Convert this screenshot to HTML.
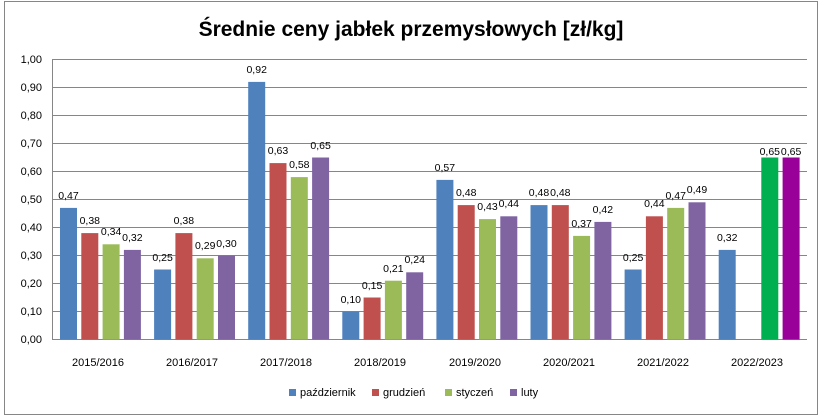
<!DOCTYPE html><html><head><meta charset="utf-8"><style>body{margin:0;background:#fff}svg{display:block}text{font-family:"Liberation Sans",sans-serif}</style></head><body>
<svg width="822" height="418" xmlns="http://www.w3.org/2000/svg">
<rect x="4.5" y="1.5" width="813" height="413" fill="#fff" stroke="#868686"/>
<text x="411" y="36" font-size="21" font-weight="bold" text-anchor="middle" fill="#000">Średnie ceny jabłek przemysłowych [zł/kg]</text>
<g stroke="#868686" stroke-width="1">
<line x1="52" x2="807" y1="59.5" y2="59.5"/><line x1="52" x2="807" y1="87.5" y2="87.5"/><line x1="52" x2="807" y1="115.5" y2="115.5"/><line x1="52" x2="807" y1="143.5" y2="143.5"/><line x1="52" x2="807" y1="171.5" y2="171.5"/><line x1="52" x2="807" y1="199.5" y2="199.5"/><line x1="52" x2="807" y1="227.5" y2="227.5"/><line x1="52" x2="807" y1="255.5" y2="255.5"/><line x1="52" x2="807" y1="283.5" y2="283.5"/><line x1="52" x2="807" y1="311.5" y2="311.5"/><line x1="52" x2="807" y1="339.5" y2="339.5"/>
<line x1="52.5" x2="52.5" y1="59" y2="340"/>
</g>
<g font-size="11" text-anchor="end" fill="#000">
<text x="42" y="63">1,00</text><text x="42" y="91">0,90</text><text x="42" y="119">0,80</text><text x="42" y="147">0,70</text><text x="42" y="175">0,60</text><text x="42" y="203">0,50</text><text x="42" y="231">0,40</text><text x="42" y="259">0,30</text><text x="42" y="287">0,20</text><text x="42" y="315">0,10</text><text x="42" y="343">0,00</text>
</g>
<g>
<rect x="60" y="207.9" width="17" height="131.6" fill="#4F81BD"/><rect x="81.3" y="233.1" width="17" height="106.4" fill="#C0504D"/><rect x="102.6" y="244.3" width="17" height="95.2" fill="#9BBB59"/><rect x="123.9" y="249.9" width="17" height="89.6" fill="#8064A2"/>
<rect x="154.1" y="269.5" width="17" height="70" fill="#4F81BD"/><rect x="175.4" y="233.1" width="17" height="106.4" fill="#C0504D"/><rect x="196.7" y="258.3" width="17" height="81.2" fill="#9BBB59"/><rect x="218" y="255.5" width="17" height="84" fill="#8064A2"/>
<rect x="248.2" y="81.9" width="17" height="257.6" fill="#4F81BD"/><rect x="269.5" y="163.1" width="17" height="176.4" fill="#C0504D"/><rect x="290.8" y="177.1" width="17" height="162.4" fill="#9BBB59"/><rect x="312.1" y="157.5" width="17" height="182" fill="#8064A2"/>
<rect x="342.3" y="311.5" width="17" height="28" fill="#4F81BD"/><rect x="363.6" y="297.5" width="17" height="42" fill="#C0504D"/><rect x="384.9" y="280.7" width="17" height="58.8" fill="#9BBB59"/><rect x="406.2" y="272.3" width="17" height="67.2" fill="#8064A2"/>
<rect x="436.4" y="179.9" width="17" height="159.6" fill="#4F81BD"/><rect x="457.7" y="205.1" width="17" height="134.4" fill="#C0504D"/><rect x="479" y="219.1" width="17" height="120.4" fill="#9BBB59"/><rect x="500.3" y="216.3" width="17" height="123.2" fill="#8064A2"/>
<rect x="530.5" y="205.1" width="17" height="134.4" fill="#4F81BD"/><rect x="551.8" y="205.1" width="17" height="134.4" fill="#C0504D"/><rect x="573.1" y="235.9" width="17" height="103.6" fill="#9BBB59"/><rect x="594.4" y="221.9" width="17" height="117.6" fill="#8064A2"/>
<rect x="624.6" y="269.5" width="17" height="70" fill="#4F81BD"/><rect x="645.9" y="216.3" width="17" height="123.2" fill="#C0504D"/><rect x="667.2" y="207.9" width="17" height="131.6" fill="#9BBB59"/><rect x="688.5" y="202.3" width="17" height="137.2" fill="#8064A2"/>
<rect x="718.7" y="249.9" width="17" height="89.6" fill="#4F81BD"/><rect x="761.3" y="157.5" width="17" height="182" fill="#00B050"/><rect x="782.6" y="157.5" width="17" height="182" fill="#990099"/>
</g>
<g font-size="10.5" text-anchor="middle" fill="#000">
<text x="68.5" y="199">0,47</text><text x="89.8" y="224">0,38</text><text x="111.1" y="235">0,34</text><text x="132.4" y="241">0,32</text>
<text x="162.6" y="261">0,25</text><text x="183.9" y="224">0,38</text><text x="205.2" y="249">0,29</text><text x="226.5" y="247">0,30</text>
<text x="256.7" y="73">0,92</text><text x="278" y="154">0,63</text><text x="299.3" y="168">0,58</text><text x="320.6" y="149">0,65</text>
<text x="350.8" y="303">0,10</text><text x="372.1" y="289">0,15</text><text x="393.4" y="272">0,21</text><text x="414.7" y="263">0,24</text>
<text x="444.9" y="171">0,57</text><text x="466.2" y="196">0,48</text><text x="487.5" y="210">0,43</text><text x="508.8" y="207">0,44</text>
<text x="539" y="196">0,48</text><text x="560.3" y="196">0,48</text><text x="581.6" y="227">0,37</text><text x="602.9" y="213">0,42</text>
<text x="633.1" y="261">0,25</text><text x="654.4" y="207">0,44</text><text x="675.7" y="199">0,47</text><text x="697" y="193">0,49</text>
<text x="727.2" y="241">0,32</text><text x="769.8" y="155">0,65</text><text x="791.1" y="155">0,65</text>
</g>
<g font-size="11" text-anchor="middle" fill="#000">
<text x="98" y="366">2015/2016</text><text x="192" y="366">2016/2017</text><text x="286" y="366">2017/2018</text><text x="380" y="366">2018/2019</text><text x="475" y="366">2019/2020</text><text x="569" y="366">2020/2021</text><text x="663" y="366">2021/2022</text><text x="757" y="366">2022/2023</text>
</g>
<g font-size="11" fill="#000">
<rect x="289" y="389" width="7" height="7" fill="#4F81BD"/><text x="300" y="396">październik</text>
<rect x="372" y="389" width="7" height="7" fill="#C0504D"/><text x="383" y="396">grudzień</text>
<rect x="445" y="389" width="7" height="7" fill="#9BBB59"/><text x="456" y="396">styczeń</text>
<rect x="510" y="389" width="7" height="7" fill="#8064A2"/><text x="521" y="396">luty</text>
</g>
</svg></body></html>
